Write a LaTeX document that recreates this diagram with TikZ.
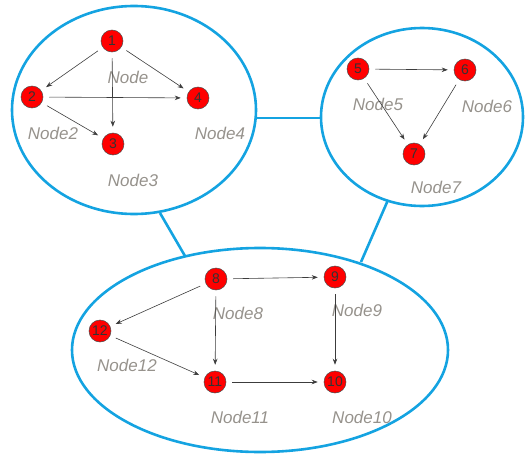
\documentclass[tikz,border=0pt]{standalone}
\usepackage{fontspec}
\setmainfont{Liberation Sans}
\usetikzlibrary{arrows.meta}
\definecolor{ringblue}{RGB}{20,163,225}
\definecolor{labgray}{RGB}{150,146,140}
\definecolor{edgegray}{RGB}{60,60,60}
\tikzset{
  vert/.style={circle,fill=red,draw=black!70,line width=0.5pt,minimum size=22pt,inner sep=0pt,font=\fontsize{14}{14}\selectfont,text=black!80},
  lab/.style={font=\fontsize{17}{17}\selectfont\itshape,text=labgray,inner sep=0pt},
  link/.style={draw=ringblue,line width=2.6pt},
  arr/.style={draw=edgegray,line width=0.6pt,-{Stealth[length=6pt,width=4.5pt]},shorten >=6pt,shorten <=6pt}
}
\begin{document}
\begin{tikzpicture}[x=1pt,y=-1pt]
\useasboundingbox (0,0) rectangle (525,455);
% rings
\draw[link] (134,110) ellipse [x radius=122,y radius=104];
\draw[link] (422,117) ellipse [x radius=101,y radius=89];
\draw[link] (260,350) ellipse [x radius=188,y radius=102];
\coordinate (c1a) at (256,118);
\coordinate (c2a) at (321,118);
\coordinate (c1b) at (160,213);
\coordinate (c3b) at (185,256);
\coordinate (c2c) at (388,200);
\coordinate (c3c) at (361,262);
\draw[link] (c1a) -- (c2a);
\draw[link] (c1b) -- (c3b);
\draw[link] (c2c) -- (c3c);
% group 1
\node[vert] (n1) at (112,41) {1};
\node[vert] (n2) at (32,97) {2};
\node[vert] (n3) at (113,144) {3};
\node[vert] (n4) at (198,98) {4};
\node[lab] (l1) at (128,77) {Node};
\node[lab] (l2) at (53,133) {Node2};
\node[lab] (l3) at (133,180) {Node3};
\node[lab] (l4) at (220,133) {Node4};
\draw[arr] (n1) -- (n2);
\draw[arr] (n1) -- (n3);
\draw[arr] (n1) -- (n4);
\draw[arr] (n2) -- (n4);
\draw[arr] (n2) -- (n3);
% group 2
\node[vert] (n5) at (358,69) {5};
\node[vert] (n6) at (465,70) {6};
\node[vert] (n7) at (414,154) {7};
\node[lab] (l5) at (378,104) {Node5};
\node[lab] (l6) at (487,106) {Node6};
\node[lab] (l7) at (436,187) {Node7};
\draw[arr] (n5) -- (n6);
\draw[arr] (n5) -- (n7);
\draw[arr] (n6) -- (n7);
% group 3
\node[vert] (n8) at (216,279) {8};
\node[vert] (n9) at (335,277) {9};
\node[vert] (n12) at (100,331) {12};
\node[vert] (n11) at (215,382) {11};
\node[vert] (n10) at (335,382) {10};
\node[lab] (l8) at (238,313) {Node8};
\node[lab] (l9) at (357,310) {Node9};
\node[lab] (l12) at (127,365) {Node12};
\node[lab] (l11) at (240,417) {Node11};
\node[lab] (l10) at (362,417) {Node10};
\draw[arr] (n8) -- (n9);
\draw[arr] (n8) -- (n12);
\draw[arr] (n8) -- (n11);
\draw[arr] (n12) -- (n11);
\draw[arr] (n11) -- (n10);
\draw[arr] (n9) -- (n10);
\end{tikzpicture}
\end{document}
